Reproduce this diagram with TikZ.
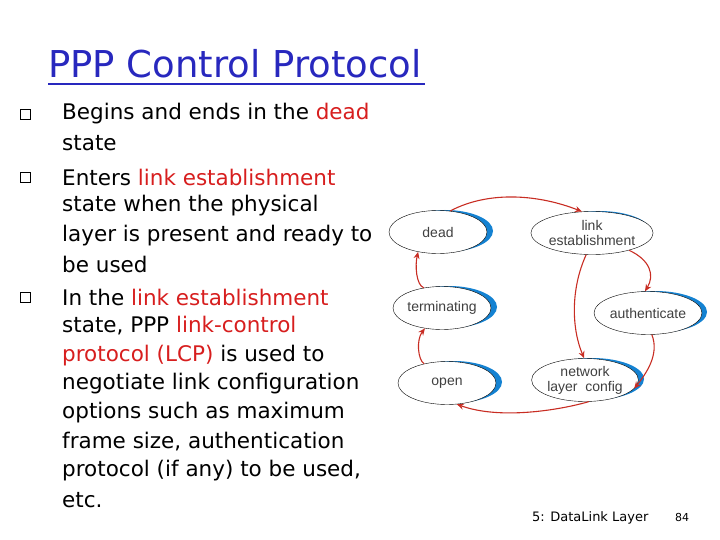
\documentclass[tikz,border=0pt]{standalone}
\usepackage{fontspec}
\setmainfont{DejaVu Sans}
\newfontfamily\diagfont{Liberation Sans}
\usetikzlibrary{shapes.geometric,arrows.meta}
\definecolor{tblue}{RGB}{40,40,190}
\definecolor{tred}{RGB}{215,30,30}
\definecolor{arr}{RGB}{200,45,35}
\definecolor{cres}{RGB}{20,130,210}
\begin{document}
\begin{tikzpicture}[x=1pt,y=-1pt,
  line/.style={anchor=west,font=\fontsize{21.5}{21.5}\selectfont,inner sep=0pt},
  bul/.style={draw,line width=0.9pt,minimum size=10pt,inner sep=0pt},
  st/.style={ellipse,draw,fill=white,minimum width=98pt,minimum height=43pt,inner sep=0pt,font=\diagfont\fontsize{14}{15}\selectfont,text=black!75,align=center},
  tr/.style={draw=arr,line width=1.1pt,-{Stealth[length=7pt,width=6pt]}}]
\useasboundingbox (0,0) rectangle (720,540);
\node[anchor=base west,text=tblue,font=\fontsize{37}{37}\selectfont,inner sep=0pt] (title) at (48,78) {PPP Control Protocol};
\draw[tblue,line width=1.3pt] (48,84) -- (425,84);
% bullets
\node[bul] (b1) at (25,114) {};
\node[bul] (b2) at (25,177) {};
\node[bul] (b3) at (25,297) {};
\node[line] (l1) at (62,114) {Begins and ends in the \textcolor{tred}{dead}};
\node[line] (l2) at (62,143) {state};
\node[line] (l3) at (62,177) {Enters \textcolor{tred}{link establishment}};
\node[line] (l4) at (62,206) {state when the physical};
\node[line] (l5) at (62,236) {layer is present and ready to};
\node[line] (l6) at (62,264) {be used};
\node[line] (l7) at (62,297) {In the \textcolor{tred}{link establishment}};
\node[line] (l8) at (62,326) {state, PPP \textcolor{tred}{link-control}};
\node[line] (l9) at (62,356) {\textcolor{tred}{protocol (LCP)} is used to};
\node[line] (l10) at (62,384) {negotiate link configuration};
\node[line] (l11) at (62,413) {options such as maximum};
\node[line] (l12) at (62,442) {frame size, authentication};
\node[line] (l13) at (62,471) {protocol (if any) to be used,};
\node[line] (l14) at (62,500) {etc.};
% crescents
\foreach \x/\y/\w in {438/232/48,592/233/52,442/308/48,648/313/52,447/383/48,585/380/52}
  \fill[cres] (\x+7,\y-1) ellipse (\w pt and 21pt);
\node[st] (dead) at (438,232) {dead};
\node[st,minimum width=104pt] (link) at (592,233) {link\\establishment};
\node[st] (term) at (442,308) {terminating};
\node[st,minimum width=104pt] (auth) at (648,313) {authenticate};
\node[st] (open) at (447,383) {open};
\node[st,minimum width=104pt] (net) at (585,380) {network\\layer\ \ config};
% transitions
\draw[tr] (dead.60) .. controls (490,190) and (540,195) .. (link.115);
\draw[tr] (link.-105) .. controls (570,290) and (572,330) .. (net.92);
\draw[tr] (link.-25) .. controls (650,260) and (655,275) .. (auth.98);
\draw[tr] (auth.-80) .. controls (660,355) and (645,375) .. (net.-10);
\draw[tr] (net.-80) .. controls (560,410) and (500,420) .. (open.-65);
\draw[tr] (open.140) .. controls (418,360) and (416,340) .. (term.-130);
\draw[tr] (term.132) .. controls (416,285) and (415,265) .. (dead.-135);
% footer
\node[anchor=base west,font=\fontsize{13}{13}\selectfont,inner sep=0pt] (foot) at (532,521) {5: DataLink Layer};
\node[anchor=base west,font=\fontsize{11}{11}\selectfont,inner sep=0pt] (pg) at (675,521) {84};
\end{tikzpicture}
\end{document}
